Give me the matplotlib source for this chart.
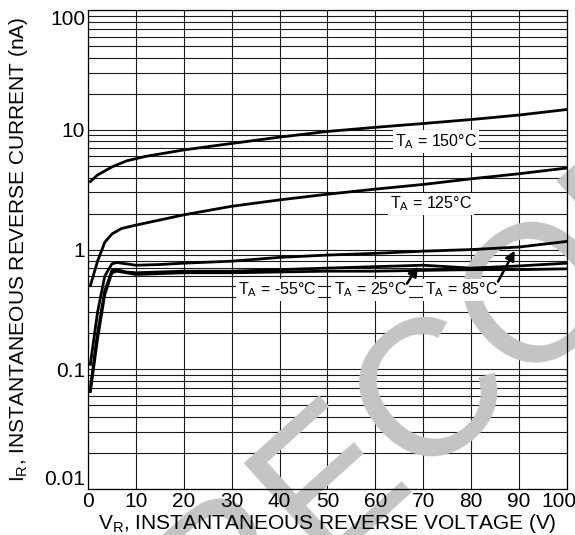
import numpy as np
import matplotlib.pyplot as plt
from matplotlib.transforms import ScaledTranslation

plt.rcParams['font.family'] = ['Liberation Sans', 'DejaVu Sans']
plt.rcParams['mathtext.default'] = 'regular'

# reverse voltage (V) and reverse current (nA) per ambient temperature
v_150 = [0.5, 2, 5, 8, 12, 20, 30, 40, 50, 60, 70, 80, 90, 100]
i_150 = [3.7, 4.2, 4.9, 5.5, 6.0, 6.8, 7.7, 8.7, 9.7, 10.5, 11.3, 12.2, 13.3, 14.8]

v_125 = [0.5, 2, 3.5, 5, 7, 10, 20, 30, 40, 50, 60, 70, 80, 90, 100]
i_125 = [0.5, 0.8, 1.15, 1.35, 1.5, 1.6, 1.95, 2.3, 2.6, 2.9, 3.2, 3.5, 3.9, 4.3, 4.8]

v_low = [0.5, 2, 3.5, 5, 6, 8, 10, 15, 20, 30, 40, 50, 60, 70, 80, 90, 100]
i_85 = [0.11, 0.3, 0.6, 0.76, 0.78, 0.76, 0.74, 0.75, 0.77, 0.8, 0.86, 0.9, 0.93, 0.97, 1.0, 1.05, 1.17]
i_25 = [0.07, 0.2, 0.45, 0.67, 0.68, 0.65, 0.64, 0.65, 0.66, 0.66, 0.68, 0.7, 0.72, 0.74, 0.70, 0.73, 0.77]
i_m55 = [0.065, 0.18, 0.42, 0.64, 0.66, 0.64, 0.62, 0.63, 0.64, 0.64, 0.65, 0.66, 0.66, 0.67, 0.68, 0.68, 0.69]

x_ticks = [0, 10, 20, 30, 40, 50, 60, 70, 80, 90, 100]
y_ticks = [0.01, 0.1, 1, 10, 100]
y_labels = ['0.01', '0.1', '1', '10', '100']

fig = plt.figure(figsize=(5.75, 5.35), dpi=100)
ax = fig.add_axes([0.153, 0.086, 0.833, 0.895])
ax.set_yscale('log')
ax.set_xlim(0, 100)
ax.set_ylim(0.01, 100)

# grid: every 10 V, log minor lines 1..9 per decade
minor = [m * d for d in [0.01, 0.1, 1, 10] for m in range(1, 10)] + [100]
ax.hlines(minor, 0, 100, colors='#1a1a1a', lw=0.8, zorder=0.8)
ax.vlines(x_ticks, 0.01, 100, colors='#1a1a1a', lw=0.8, zorder=0.8)

# watermark
ax.text(0.372, -0.227, 'RECOMMENDED', transform=fig.transFigure, rotation=42,
        rotation_mode='anchor', ha='left', va='baseline', fontsize=140,
        color='#c4c4c4', clip_on=False, zorder=1)

for v, i in [(v_150, i_150), (v_125, i_125), (v_low, i_85), (v_low, i_25), (v_low, i_m55)]:
    ax.plot(v, i, color='black', lw=2.0, solid_joinstyle='round', zorder=2)

box = dict(facecolor='white', edgecolor='none', pad=1.5)
fs = 11.5
ax.text(72.7, 8.0, r'T$_A$ = 150°C', ha='center', va='center', fontsize=fs, bbox=box, zorder=3)
ax.text(71.6, 2.4, r'T$_A$ = 125°C', ha='center', va='center', fontsize=fs, bbox=box, zorder=3)
ax.text(39.5, 0.46, r'T$_A$ = -55°C', ha='center', va='center', fontsize=fs, bbox=box, zorder=3)
ax.text(58.9, 0.46, r'T$_A$ = 25°C', ha='center', va='center', fontsize=fs, bbox=box, zorder=3)
ax.text(78.0, 0.46, r'T$_A$ = 85°C', ha='center', va='center', fontsize=fs, bbox=box, zorder=3)

arrow = dict(arrowstyle='-|>', color='black', lw=1.8, mutation_scale=14, shrinkA=0, shrinkB=0)
ax.annotate('', xy=(68.9, 0.72), xytext=(66.6, 0.52), arrowprops=arrow, zorder=4)
ax.annotate('', xy=(89.1, 0.98), xytext=(85.6, 0.54), arrowprops=arrow, zorder=4)

ax.set_xticks(x_ticks)
ax.set_xticklabels([str(t) for t in x_ticks])
ax.set_yticks(y_ticks)
ax.set_yticklabels(y_labels)
ax.minorticks_off()
ax.tick_params(length=0, labelsize=15, pad=2)
ylabs = ax.get_yticklabels()
ylabs[0].set_va('bottom')
ylabs[-1].set_va('top')
xlabs = ax.get_xticklabels()
xlabs[-1].set_transform(xlabs[-1].get_transform() + ScaledTranslation(-0.08, 0, fig.dpi_scale_trans))
for s in ax.spines.values():
    s.set_linewidth(0.9)
    s.set_zorder(2.5)

ax.set_xlabel(r'V$_R$, INSTANTANEOUS REVERSE VOLTAGE (V)', fontsize=15, labelpad=1)
ax.set_ylabel(r'I$_R$, INSTANTANEOUS REVERSE CURRENT (nA)', fontsize=15, labelpad=10)

fig.savefig('out.png', dpi=100)
